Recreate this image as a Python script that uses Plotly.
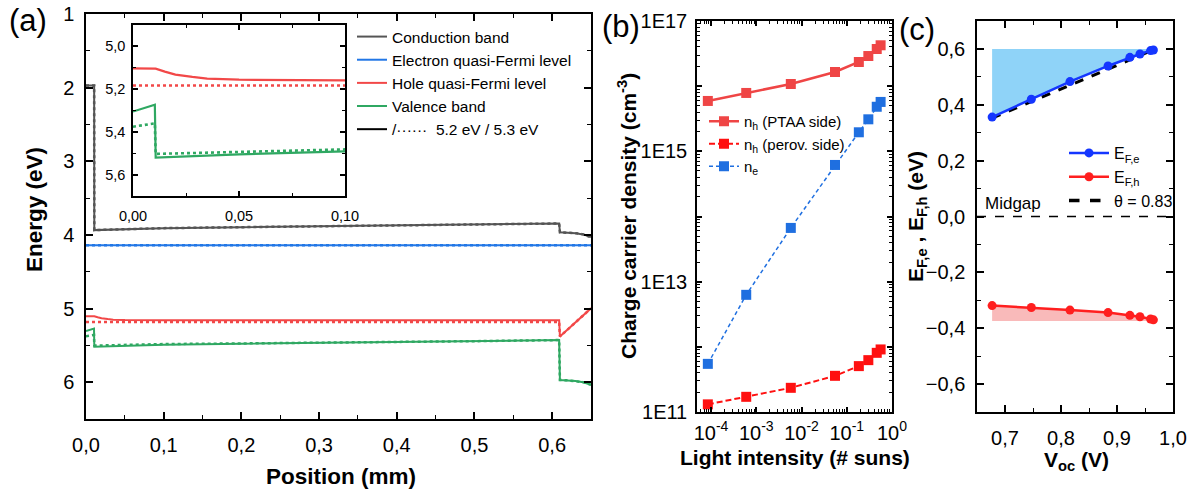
import plotly.graph_objects as go

W, H = 1201, 493
FONT = "Liberation Sans, Arial, sans-serif"


def px(x):
    return x / W


def py(y):
    return 1 - y / H


# ---------------- Panel (a) data: band diagram ----------------
cb_pos = [0, 0.0105, 0.0107, 0.05, 0.1, 0.2, 0.3, 0.4, 0.5, 0.609, 0.61, 0.62, 0.63, 0.64, 0.65]
cb_E = [1.97, 1.97, 3.935, 3.922, 3.908, 3.895, 3.885, 3.873, 3.86, 3.845, 3.965, 3.968, 3.976, 3.993, 4.03]
cb_E_dot = [1.97, 1.97, 3.935, 3.922, 3.908, 3.895, 3.885, 3.873, 3.86, 3.845, 3.965, 3.968, 3.976, 3.993, 4.03]

efn_pos = [0, 0.65]
efn_E = [4.14, 4.14]

efp_pos = [0, 0.0107, 0.015, 0.02, 0.028, 0.035, 0.05, 0.07, 0.1, 0.3, 0.609, 0.61, 0.65]
efp_E = [5.103, 5.104, 5.118, 5.132, 5.143, 5.151, 5.156, 5.158, 5.159, 5.16, 5.16, 5.38, 4.997]
efp_pos_dot = [0, 0.1, 0.3, 0.609, 0.61, 0.65]
efp_E_dot = [5.183, 5.183, 5.183, 5.183, 5.38, 4.997]

vb_pos = [0, 0.0103, 0.0107, 0.05, 0.1, 0.2, 0.3, 0.4, 0.5, 0.609, 0.61, 0.62, 0.63, 0.64, 0.65]
vb_E = [5.305, 5.273, 5.52, 5.505, 5.491, 5.478, 5.468, 5.456, 5.443, 5.428, 5.97, 5.975, 5.985, 6.0, 6.035]
vb_E_dot = [5.376, 5.36, 5.503, 5.493, 5.482, 5.474, 5.466, 5.456, 5.443, 5.428, 5.97, 5.975, 5.985, 6.0, 6.035]

# ---------------- Panel (b) data: carrier densities ----------------
intensity = [8.5e-5, 6.0e-4, 5.8e-3, 5.5e-2, 0.185, 0.30, 0.46, 0.56]
nh_ptaa = [5.93e15, 7.87e15, 1.08e16, 1.65e16, 2.35e16, 2.90e16, 3.72e16, 4.24e16]
nh_perov = [1.31e11, 1.71e11, 2.35e11, 3.59e11, 5.06e11, 6.25e11, 8.09e11, 9.12e11]
ne = [5.48e11, 6.28e12, 6.68e13, 6.18e14, 1.96e15, 3.10e15, 4.83e15, 5.73e15]

b_xticks = [1e-4, 1e-3, 1e-2, 1e-1, 1e0]
b_xlabels = ["10<sup>-4</sup>", "10<sup>-3</sup>", "10<sup>-2</sup>", "10<sup>-1</sup>", "10<sup>0</sup>"]
b_yticks = [1e11, 1e12, 1e13, 1e14, 1e15, 1e16, 1e17]
b_ylabels = ["1E11", "", "1E13", "", "1E15", "", "1E17"]

# ---------------- Panel (c) data: quasi-Fermi levels ----------------
voc = [0.677, 0.747, 0.816, 0.884, 0.923, 0.941, 0.960, 0.965]
ef_e = [0.356, 0.420, 0.483, 0.539, 0.570, 0.582, 0.594, 0.596]
ef_h = [-0.319, -0.326, -0.335, -0.344, -0.354, -0.359, -0.367, -0.370]
fill_top = 0.6
fill_bottom = -0.374
theta_x = [0.677, 0.963]
theta_y = [0.352, 0.595]

C_CB = "#555555"
C_EFN = "#2277e6"
C_EFP = "#f24848"
C_VB = "#2fa862"

fig = go.Figure()


def band(xv, yv, color, dash, name=None, show=False, xa="x", ya="y", width=2):
    return go.Scatter(x=xv, y=yv, mode="lines", name=name, showlegend=show,
                      line=dict(color=color, width=width, dash=dash),
                      xaxis=xa, yaxis=ya, legend="legend", hoverinfo="skip")


# ---- panel (a) main ----
fig.add_trace(band(cb_pos, cb_E, C_CB, "solid", "Conduction band", True))
fig.add_trace(band(efn_pos, efn_E, C_EFN, "solid", "Electron quasi-Fermi level", True))
fig.add_trace(band(efp_pos, efp_E, C_EFP, "solid", "Hole quasi-Fermi level", True))
fig.add_trace(band(vb_pos, vb_E, C_VB, "solid", "Valence band", True))
fig.add_trace(go.Scatter(x=[None], y=[None], mode="lines",
                         name="/\u00b7\u00b7\u00b7\u00b7\u00b7\u00b7  5.2 eV / 5.3 eV",
                         line=dict(color="black", width=2), xaxis="x", yaxis="y", legend="legend"))
fig.add_trace(band(cb_pos, cb_E_dot, C_CB, "dot", width=2.5))
fig.add_trace(band(efn_pos, efn_E, C_EFN, "dot", width=2.5))
fig.add_trace(band(efp_pos_dot, efp_E_dot, C_EFP, "dot", width=2.5))
fig.add_trace(band(vb_pos, vb_E_dot, C_VB, "dot", width=2.5))

# ---- inset ----
fig.add_trace(band(efp_pos, efp_E, C_EFP, "solid", xa="x2", ya="y2", width=2.2))
fig.add_trace(band(efp_pos_dot, efp_E_dot, C_EFP, "dot", xa="x2", ya="y2", width=2.6))
fig.add_trace(band(vb_pos, vb_E, C_VB, "solid", xa="x2", ya="y2", width=2.2))
fig.add_trace(band(vb_pos, vb_E_dot, C_VB, "dot", xa="x2", ya="y2", width=2.6))

# ---- panel (b) ----
fig.add_trace(go.Scatter(x=intensity, y=nh_ptaa, mode="lines+markers", name="n<sub>h</sub> (PTAA side)",
                         line=dict(color="#ef4545", width=2.5),
                         marker=dict(symbol="square", size=10, color="#ef4545"),
                         xaxis="x3", yaxis="y3", legend="legend2"))
fig.add_trace(go.Scatter(x=intensity, y=nh_perov, mode="lines+markers", name="n<sub>h</sub> (perov. side)",
                         line=dict(color="#ff1010", width=2, dash="6px,3px"),
                         marker=dict(symbol="square", size=10, color="#ff1010"),
                         xaxis="x3", yaxis="y3", legend="legend2"))
fig.add_trace(go.Scatter(x=intensity, y=ne, mode="lines+markers", name="n<sub>e</sub>",
                         line=dict(color="#1f6fe0", width=1.5, dash="4px,3px"),
                         marker=dict(symbol="square", size=10, color="#1f6fe0"),
                         xaxis="x3", yaxis="y3", legend="legend2"))

# ---- panel (c) ----
C_BLUE = "#1436ff"
C_RED = "#ff1f1f"
fig.add_trace(go.Scatter(x=voc, y=ef_e, mode="lines", line=dict(width=0, color=C_BLUE), showlegend=False,
                         xaxis="x4", yaxis="y4", hoverinfo="skip"))
fig.add_trace(go.Scatter(x=voc, y=[fill_top] * len(voc), mode="lines", line=dict(width=0), fill="tonexty",
                         fillcolor="#8fd3f8", showlegend=False, xaxis="x4", yaxis="y4", hoverinfo="skip"))
fig.add_trace(go.Scatter(x=voc, y=[fill_bottom] * len(voc), mode="lines", line=dict(width=0), showlegend=False,
                         xaxis="x4", yaxis="y4", hoverinfo="skip"))
fig.add_trace(go.Scatter(x=voc, y=ef_h, mode="lines", line=dict(width=0), fill="tonexty",
                         fillcolor="#f9baba", showlegend=False, xaxis="x4", yaxis="y4", hoverinfo="skip"))
fig.add_trace(go.Scatter(x=theta_x, y=theta_y, mode="lines", line=dict(color="black", width=3, dash="dash"),
                         showlegend=False, xaxis="x4", yaxis="y4"))
fig.add_trace(go.Scatter(x=voc, y=ef_e, mode="lines+markers", name="E<sub>F,e</sub>",
                         line=dict(color=C_BLUE, width=2.5), marker=dict(size=9, color=C_BLUE),
                         xaxis="x4", yaxis="y4", legend="legend3"))
fig.add_trace(go.Scatter(x=voc, y=ef_h, mode="lines+markers", name="E<sub>F,h</sub>",
                         line=dict(color=C_RED, width=2.5), marker=dict(size=9, color=C_RED),
                         xaxis="x4", yaxis="y4", legend="legend3"))
fig.add_trace(go.Scatter(x=[None], y=[None], mode="lines", name="\u03b8 = 0.83",
                         line=dict(color="black", width=3.5, dash="dash"),
                         xaxis="x4", yaxis="y4", legend="legend3"))


def axstyle(size=20, **kw):
    d = dict(showline=True, linecolor="black", linewidth=1.5, mirror="allticks", ticks="inside",
             ticklen=7, tickwidth=1.5, tickcolor="black", showgrid=False, zeroline=False,
             automargin=False, tickfont=dict(size=size, color="black", family=FONT))
    d.update(kw)
    return d


def minor(dtick=None, tickvals=None, ticklen=4):
    m = dict(ticks="inside", ticklen=ticklen, tickwidth=1.2, tickcolor="black", showgrid=False)
    if dtick is not None:
        m["dtick"] = dtick
    if tickvals is not None:
        m["tickvals"] = tickvals
    return m


log_minor_x = [d * m for d in [1e-5, 1e-4, 1e-3, 1e-2, 1e-1] for m in range(2, 10)]
log_minor_y = [d * m for d in [1e11, 1e12, 1e13, 1e14, 1e15, 1e16] for m in range(2, 10)]

layout = dict(
    width=W, height=H, margin=dict(l=0, r=0, t=0, b=0, pad=0, autoexpand=False),
    paper_bgcolor="white", plot_bgcolor="white", separators=",.",
    font=dict(family=FONT, color="black"),
    xaxis=axstyle(domain=[px(86), px(591)], range=[0, 0.65], dtick=0.1, tick0=0, tickformat=".1f",
                  minor=minor(dtick=0.05), anchor="y", ticklabelstandoff=7),
    yaxis=axstyle(domain=[py(419), py(14)], range=[6.5, 1], dtick=1, tick0=0,
                  minor=minor(dtick=0.5), anchor="x", ticklabelstandoff=6),
    xaxis2=axstyle(size=14.5, domain=[px(133), px(345)], range=[0, 0.1], dtick=0.05, tick0=0, tickformat=".2f",
                   minor=minor(dtick=0.025, ticklen=3), anchor="y2", ticklen=5, ticklabelstandoff=6),
    yaxis2=axstyle(size=14.5, domain=[py(196), py(25)], range=[5.7, 4.9], dtick=0.2, tick0=0, tickformat=".1f",
                   minor=minor(dtick=0.1, ticklen=3), anchor="x2", ticklen=5, ticklabelstandoff=3),
    xaxis3=axstyle(type="log", domain=[px(697), px(892)], range=[-4.31, 0.0], tickvals=b_xticks,
                   ticktext=b_xlabels, minor=minor(tickvals=log_minor_x, ticklen=3), anchor="y3",
                   ticklen=5, ticklabelstandoff=2),
    yaxis3=axstyle(type="log", domain=[py(412), py(21)], range=[11, 17], tickvals=b_yticks,
                   ticktext=b_ylabels, minor=minor(tickvals=log_minor_y, ticklen=3), anchor="x3",
                   ticklen=5, ticklabelstandoff=4),
    xaxis4=axstyle(domain=[px(977), px(1173)], range=[0.65, 1.0], dtick=0.1, tick0=0, tickformat=".1f",
                   minor=minor(dtick=0.05), anchor="y4", ticklabelstandoff=7),
    yaxis4=axstyle(domain=[py(412), py(21)], range=[-0.7, 0.7], dtick=0.2, tick0=0, tickformat=".1f",
                   minor=minor(dtick=0.1), anchor="x4", ticklabelstandoff=6),
    legend=dict(x=px(352), y=py(20), xanchor="left", yanchor="top", bgcolor="rgba(0,0,0,0)",
                font=dict(size=15.5, family=FONT, color="black"), traceorder="normal"),
    legend2=dict(x=px(704), y=py(105), xanchor="left", yanchor="top", bgcolor="rgba(0,0,0,0)",
                 font=dict(size=15, family=FONT, color="black"), traceorder="normal"),
    legend3=dict(x=px(1064), y=py(136), xanchor="left", yanchor="top", bgcolor="rgba(0,0,0,0)",
                 font=dict(size=16, family=FONT, color="black"), traceorder="normal", itemwidth=40),
    shapes=[dict(type="line", xref="x4 domain", yref="y4", x0=0, x1=1, y0=0, y1=0,
                 line=dict(color="black", width=1.5, dash="dash"))],
)


def ann(text, x, y, size, angle=0, bold=False):
    t = f"<b>{text}</b>" if bold else text
    return dict(text=t, x=px(x), y=py(y), xref="paper", yref="paper", showarrow=False,
                xanchor="center", yanchor="middle", textangle=angle,
                font=dict(size=size, family=FONT, color="black"))


layout["annotations"] = [
    ann("(a)", 28, 20, 31),
    ann("(b)", 621, 27, 31),
    ann("(c)", 917, 30, 31),
    ann("Energy (eV)", 34, 210, 22.5, -90, True),
    ann("Position (mm)", 341, 476, 22.5, 0, True),
    ann("Charge carrier density (cm<sup>-3</sup>)", 627, 216, 21, -90, True),
    ann("Light intensity (# suns)", 795, 457, 21, 0, True),
    ann("E<sub>F,e</sub> , E<sub>F,h</sub> (eV)", 917, 217, 21, -90, True),
    ann("V<sub>oc</sub> (V)", 1076, 461, 21, 0, True),
    ann("Midgap", 1013, 203, 17),
]

fig.update_layout(**layout)
fig.write_html("out.html")
